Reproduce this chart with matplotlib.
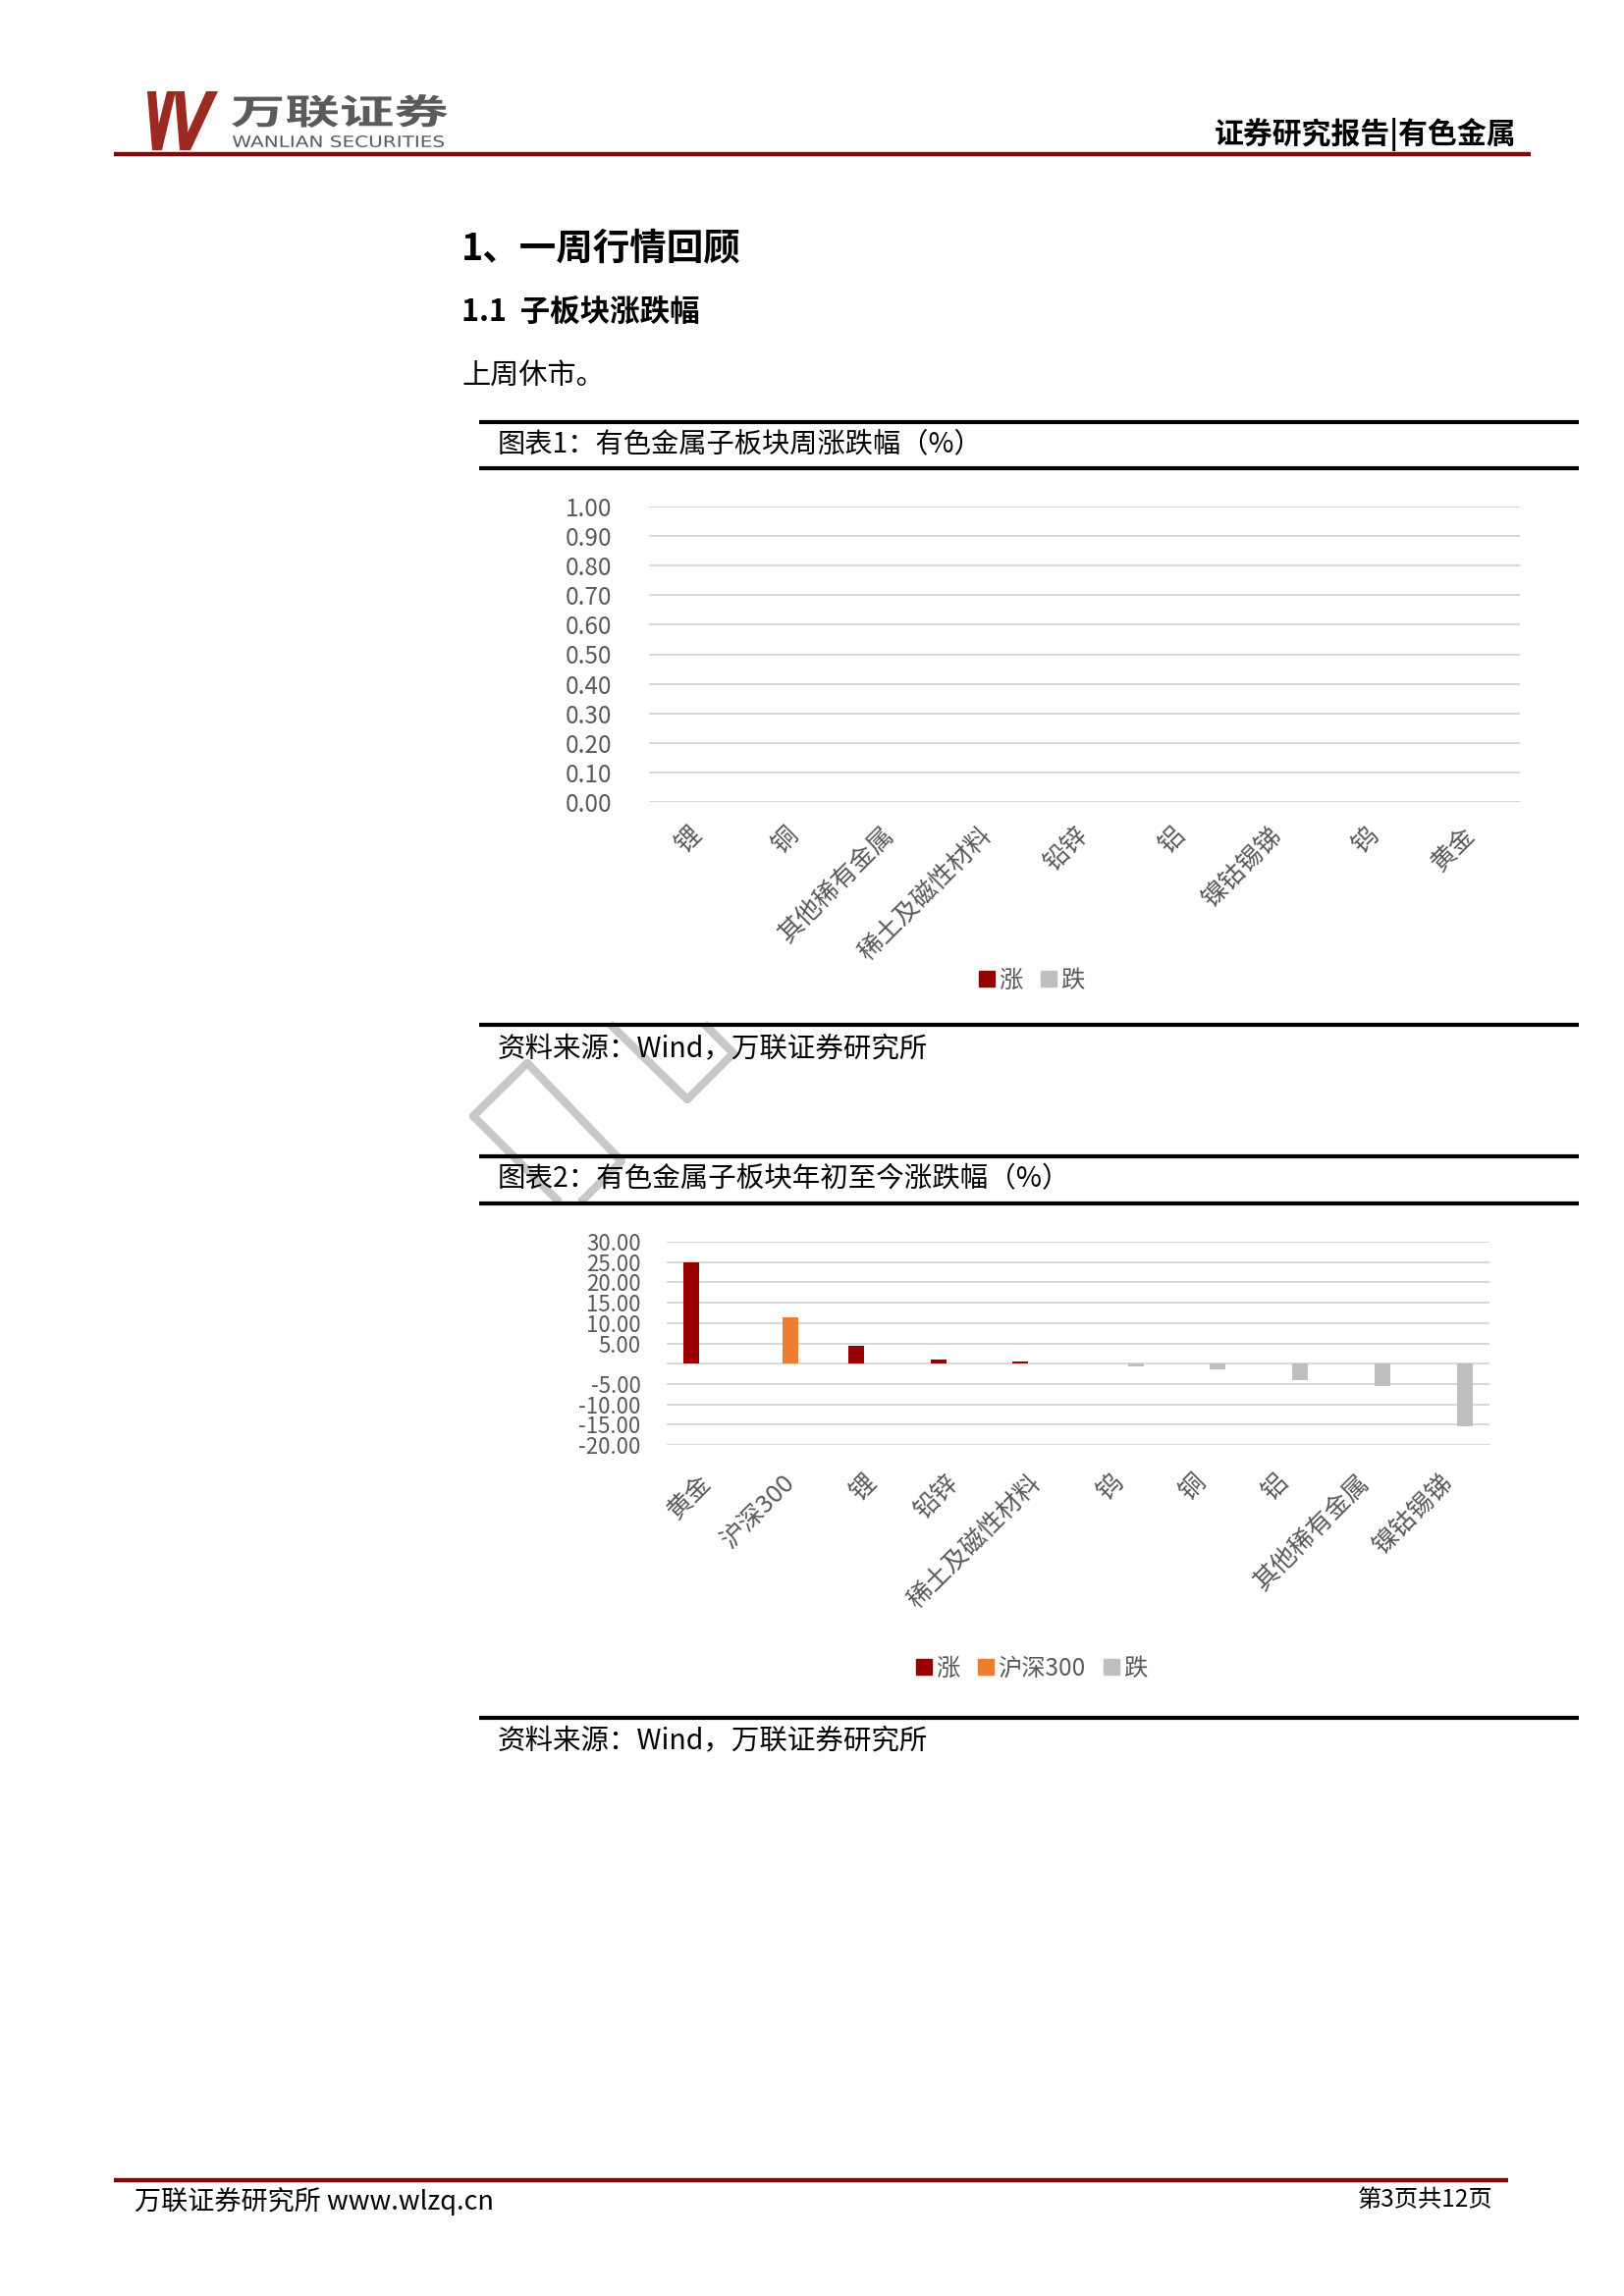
import numpy as np
import matplotlib
matplotlib.use("Agg")
import matplotlib.pyplot as plt
from matplotlib.lines import Line2D
from matplotlib.patches import Polygon, PathPatch
from matplotlib.textpath import TextPath
from matplotlib.font_manager import FontProperties
from matplotlib.transforms import Affine2D

plt.rcParams['font.family'] = ['Noto Sans CJK SC', 'DejaVu Sans']

# Chart 1 - weekly change (market closed last week)
week_cats = ['锂', '铜', '其他稀有金属', '稀土及磁性材料', '铅锌', '铝', '镍钴锡锑', '钨', '黄金']
week_up = [0.0, 0.0, 0.0, 0.0, 0.0, 0.0, 0.0, 0.0, 0.0]
week_down = [0.0, 0.0, 0.0, 0.0, 0.0, 0.0, 0.0, 0.0, 0.0]
week_ticks = [0.0, 0.1, 0.2, 0.3, 0.4, 0.5, 0.6, 0.7, 0.8, 0.9, 1.0]

# Chart 2 - year to date change
nan = np.nan
ytd_cats = ['黄金', '沪深300', '锂', '铅锌', '稀土及磁性材料', '钨', '铜', '铝', '其他稀有金属', '镍钴锡锑']
ytd_up = [25.0, nan, 4.3, 1.0, 0.5, nan, nan, nan, nan, nan]
ytd_hs300 = [nan, 11.4, nan, nan, nan, nan, nan, nan, nan, nan]
ytd_down = [nan, nan, nan, nan, nan, -0.7, -1.4, -4.1, -5.5, -15.4]
ytd_ticks = [-20, -15, -10, -5, 0, 5, 10, 15, 20, 25, 30]
ytd_ticklabels = ['-20.00', '-15.00', '-10.00', '-5.00', '', '5.00', '10.00', '15.00', '20.00', '25.00', '30.00']

UP = '#990000'
HS = '#ED7D31'
DOWN = '#BFBFBF'
DARKRED = '#7E0C0C'
GRID = '#D9D9D9'
TICK = '#595959'

W, H = 1654, 2339
fig = plt.figure(figsize=(16.54, 23.39), dpi=100)


def fx(x):
    return x / W


def fy(y):
    return 1 - y / H


def hline(x0, x1, y, color='black', lw=3.0):
    fig.add_artist(Line2D([fx(x0), fx(x1)], [fy(y), fy(y)], color=color, lw=lw,
                          transform=fig.transFigure, solid_capstyle='butt'))


def text(x, y, s, **kw):
    kw.setdefault('va', 'center')
    fig.text(fx(x), fy(y), s, **kw)


def fit_text(s, x0, y0, x1, y1, color, weight='bold', family='Noto Sans CJK SC'):
    # stretch a text path into a pixel box (used for the logo lettering)
    tp = TextPath((0, 0), s, size=1, prop=FontProperties(family=family, weight=weight))
    bb = tp.get_extents()
    sx = (x1 - x0) / W / bb.width
    sy = (y1 - y0) / H / bb.height
    tr = Affine2D().translate(-bb.x0, -bb.y0).scale(sx, sy).translate(fx(x0), fy(y1)) + fig.transFigure
    fig.add_artist(PathPatch(tp, transform=tr, facecolor=color, lw=0))


# ---- header / logo ----
w_strokes = [
    [(150, 93), (159, 93), (164, 153), (155, 153)],
    [(155, 153), (165, 153), (179, 93), (170, 93)],
    [(178, 93), (188, 93), (193, 153), (183, 153)],
    [(183, 153), (194, 153), (222, 93), (210, 93)],
]
for pts in w_strokes:
    fig.add_artist(Polygon([(fx(a), fy(b)) for a, b in pts], closed=True,
                           facecolor='#9B2A22', lw=0, transform=fig.transFigure))
fit_text('万联证券', 236, 96, 456, 130, '#5A5A5A', weight='black')
fit_text('WANLIAN SECURITIES', 237, 138, 452, 150, '#5A5A5A', weight='normal', family='DejaVu Sans')
text(1544, 137, '证券研究报告|有色金属', ha='right', fontsize=21.5, fontweight='bold')
hline(116, 1559, 157, color=DARKRED, lw=3.2)

# ---- body text ----
text(470, 254, '1、一周行情回顾', fontsize=27, fontweight='bold')
text(470, 318, '1.1  子板块涨跌幅', fontsize=22, fontweight='bold')
text(470, 383, '上周休市。', fontsize=21)

# ---- watermark ----
for pts in [[(567, 1222), (482, 1137), (537, 1083), (633, 1183), (594, 1222)],
            [(624, 1046), (700, 1120), (747, 1073), (720, 1046)]]:
    fig.add_artist(Line2D([fx(a) for a, b in pts], [fy(b) for a, b in pts], color='#C8C8C8',
                          lw=6, transform=fig.transFigure, zorder=0))

# ---- chart 1 ----
hline(488, 1608, 430)
text(507, 452, '图表1：有色金属子板块周涨跌幅（%）', fontsize=20.3)
hline(488, 1608, 477)

ax1 = fig.add_axes([fx(661), fy(817), (1548 - 661) / W, (817 - 516) / H])
x1 = np.arange(len(week_cats))
ax1.bar(x1 - 0.15, week_up, 0.3, color=UP)
ax1.bar(x1 + 0.15, week_down, 0.3, color=DOWN)
ax1.set_xlim(-0.5, len(week_cats) - 0.5)
ax1.set_ylim(0, 1)
ax1.set_yticks(week_ticks, ['%.2f' % v for v in week_ticks])
ax1.set_xticks(x1, week_cats, rotation=45, ha='right', rotation_mode='anchor', va='center')
ax1.yaxis.grid(True, color=GRID, lw=1.5)
ax1.set_axisbelow(True)
for s in ax1.spines.values():
    s.set_visible(False)
ax1.tick_params(axis='y', length=0, labelsize=17.5, labelcolor=TICK, pad=27)
ax1.tick_params(axis='x', length=0, labelsize=18.5, labelcolor=TICK, pad=22)

h1 = [Line2D([], [], marker='s', ls='none', color=UP, markersize=11),
      Line2D([], [], marker='s', ls='none', color=DOWN, markersize=11)]
fig.legend(h1, ['涨', '跌'], loc='center', bbox_to_anchor=(fx(1051), fy(999)), ncol=2,
           frameon=False, fontsize=17.5, handlelength=0.6, handletextpad=0.2, columnspacing=0.8,
           labelcolor=TICK)

hline(488, 1608, 1044)
text(507, 1068, '资料来源：Wind，万联证券研究所', fontsize=20.5, style='italic')

# ---- chart 2 ----
hline(488, 1608, 1178)
text(507, 1201, '图表2：有色金属子板块年初至今涨跌幅（%）', fontsize=20.5)
hline(488, 1608, 1226)

ax2 = fig.add_axes([fx(679), fy(1472), (1517 - 679) / W, (1472 - 1265) / H])
x2 = np.arange(len(ytd_cats))
ax2.bar(x2 - 0.2, ytd_up, 0.19, color=UP)
ax2.bar(x2, ytd_hs300, 0.19, color=HS)
ax2.bar(x2 + 0.2, ytd_down, 0.19, color=DOWN)
ax2.set_xlim(-0.5, len(ytd_cats) - 0.5)
ax2.set_ylim(-20, 30)
ax2.set_yticks(ytd_ticks, ytd_ticklabels)
ax2.set_xticks(x2, ytd_cats, rotation=45, ha='right', rotation_mode='anchor', va='center')
ax2.yaxis.grid(True, color=GRID, lw=1.5)
ax2.set_axisbelow(True)
for s in ax2.spines.values():
    s.set_visible(False)
ax2.tick_params(axis='y', length=0, labelsize=16, labelcolor=TICK, pad=19)
ax2.tick_params(axis='x', length=0, labelsize=18.5, labelcolor=TICK, pad=25)

h2 = [Line2D([], [], marker='s', ls='none', color=UP, markersize=11),
      Line2D([], [], marker='s', ls='none', color=HS, markersize=11),
      Line2D([], [], marker='s', ls='none', color=DOWN, markersize=11)]
fig.legend(h2, ['涨', '沪深300', '跌'], loc='center', bbox_to_anchor=(fx(1051), fy(1700)), ncol=3,
           frameon=False, fontsize=17.5, handlelength=0.6, handletextpad=0.2, columnspacing=0.8,
           labelcolor=TICK)

hline(488, 1608, 1750)
text(507, 1773, '资料来源：Wind，万联证券研究所', fontsize=20.5, style='italic')

# ---- footer ----
hline(116, 1536, 2221, color=DARKRED, lw=3.2)
text(137, 2243, '万联证券研究所 www.wlzq.cn', fontsize=19.5)
text(1521, 2241, '第3页共12页', ha='right', fontsize=17.5)

fig.savefig('out.png', dpi=100)
